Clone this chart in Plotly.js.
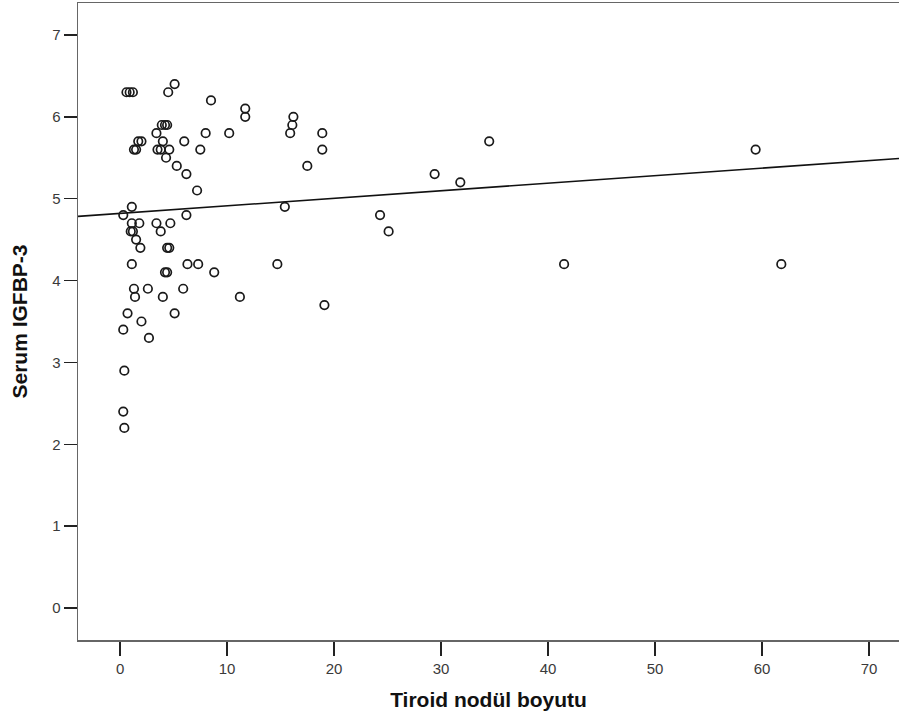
<!DOCTYPE html>
<html>
<head>
<meta charset="utf-8">
<script src="https://cdn.plot.ly/plotly-3.0.1.min.js"></script>
<style>html,body{margin:0;padding:0;background:#fff;}#chart{width:899px;height:722px;}</style>
</head>
<body>
<div id="chart"></div>
<script>
// Tiroid nodül boyutu (x) vs Serum IGFBP-3 (y)
const noduleSize = [
  0.6, 0.9, 1.2, 5.1, 4.5, 8.5, 11.7, 11.7, 3.9, 4.2,
  4.4, 3.4, 8.0, 10.2, 4.0, 6.0, 1.7, 2.0, 1.3, 1.5,
  3.5, 3.8, 4.6, 7.5, 4.3, 5.3, 6.2, 7.2, 1.1, 0.3,
  6.2, 1.1, 1.8, 3.4, 4.7, 1.0, 1.2, 3.8, 1.5, 1.9,
  4.4, 4.6, 1.1, 6.3, 7.3, 8.8, 4.2, 4.4, 1.3, 2.6,
  5.9, 1.4, 4.0, 11.2, 0.7, 5.1, 2.0, 0.3, 2.7, 0.4,
  0.3, 0.4, 16.2, 16.1, 15.9, 18.9, 18.9, 17.5, 15.4, 14.7,
  19.1, 34.5, 29.4, 31.8, 24.3, 25.1, 41.5, 59.4, 61.8
];
const igfbp3 = [
  6.3, 6.3, 6.3, 6.4, 6.3, 6.2, 6.1, 6.0, 5.9, 5.9,
  5.9, 5.8, 5.8, 5.8, 5.7, 5.7, 5.7, 5.7, 5.6, 5.6,
  5.6, 5.6, 5.6, 5.6, 5.5, 5.4, 5.3, 5.1, 4.9, 4.8,
  4.8, 4.7, 4.7, 4.7, 4.7, 4.6, 4.6, 4.6, 4.5, 4.4,
  4.4, 4.4, 4.2, 4.2, 4.2, 4.1, 4.1, 4.1, 3.9, 3.9,
  3.9, 3.8, 3.8, 3.8, 3.6, 3.6, 3.5, 3.4, 3.3, 2.9,
  2.4, 2.2, 6.0, 5.9, 5.8, 5.8, 5.6, 5.4, 4.9, 4.2,
  3.7, 5.7, 5.3, 5.2, 4.8, 4.6, 4.2, 5.6, 4.2
];
const xTicks = [0, 10, 20, 30, 40, 50, 60, 70];
const yTicks = [0, 1, 2, 3, 4, 5, 6, 7];
const xRange = [-3.93, 72.8];
const yRange = [-0.39, 7.39];

// least-squares fit line
const n = noduleSize.length;
const mx = noduleSize.reduce((a, b) => a + b, 0) / n;
const my = igfbp3.reduce((a, b) => a + b, 0) / n;
let sxy = 0, sxx = 0;
for (let i = 0; i < n; i++) {
  sxy += (noduleSize[i] - mx) * (igfbp3[i] - my);
  sxx += (noduleSize[i] - mx) ** 2;
}
const slope = sxy / sxx;
const intercept = my - slope * mx;
const fitX = [xRange[0], xRange[1]];
const fitY = fitX.map(v => intercept + slope * v);

const traces = [
  {
    x: fitX, y: fitY, type: 'scatter', mode: 'lines',
    line: {color: '#111', width: 1.6}, hoverinfo: 'skip', showlegend: false
  },
  {
    x: noduleSize, y: igfbp3, type: 'scatter', mode: 'markers',
    marker: {symbol: 'circle-open', size: 8.5, color: '#1a1a1a', line: {width: 1.7, color: '#1a1a1a'}},
    showlegend: false
  }
];

const layout = {
  width: 899, height: 722,
  margin: {l: 78, r: 0, t: 3, b: 82},
  paper_bgcolor: '#fff', plot_bgcolor: '#fff',
  showlegend: false,
  font: {family: 'Liberation Sans, Arial, sans-serif', color: '#333'},
  xaxis: {
    range: xRange, tickvals: xTicks, ticktext: xTicks.map(String),
    showgrid: false, zeroline: false,
    showline: true, linecolor: '#666', linewidth: 1.5, mirror: true,
    ticks: 'outside', ticklen: 14, tickwidth: 1.5, tickcolor: '#222',
    tickfont: {size: 15, color: '#3a3a3a'},
    title: {text: 'Tiroid nodül boyutu', font: {size: 21, color: '#111', family: 'Liberation Sans, Arial, sans-serif', weight: 'bold'}, standoff: 17}
  },
  yaxis: {
    range: yRange, tickvals: yTicks, ticktext: yTicks.map(String),
    showgrid: false, zeroline: false,
    showline: true, linecolor: '#666', linewidth: 1.5, mirror: false,
    ticks: 'outside', ticklen: 13, tickwidth: 1.5, tickcolor: '#222',
    tickfont: {size: 15, color: '#3a3a3a'},
    title: {text: 'Serum IGFBP-3', font: {size: 21, color: '#111', family: 'Liberation Sans, Arial, sans-serif', weight: 'bold'}, standoff: 19}
  }
};

Plotly.newPlot('chart', traces, layout, {displayModeBar: false, staticPlot: true});
</script>
</body>
</html>
